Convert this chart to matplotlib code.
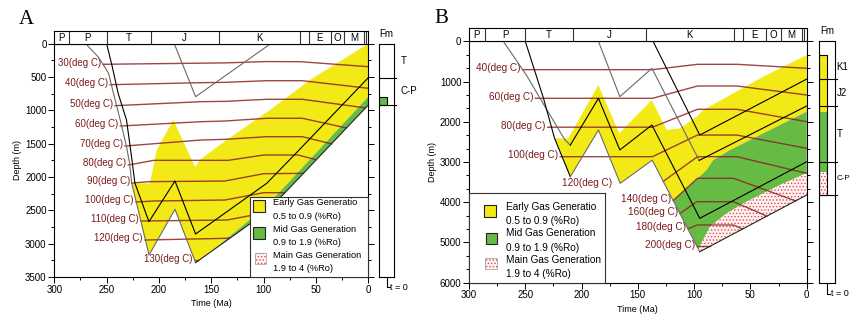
import matplotlib
matplotlib.use('Agg')
import matplotlib.pyplot as plt
from matplotlib.patches import Rectangle
from matplotlib.ticker import MultipleLocator

plt.rcParams['font.family'] = ['Liberation Sans', 'DejaVu Sans']
plt.rcParams['hatch.linewidth'] = 0.6
plt.rcParams['hatch.color'] = '#e04848'

YELLOW = '#f2e917'
GREEN = '#66bb44'
PINK = '#fff2f2'
ISO = '#8b2525'
GRAY = '#6a6a6a'

# geologic time scale on top of both panels (Ma)
period_edges = [300, 286, 250, 208, 143, 65, 57, 36, 23, 4, 2, 0]
period_names = ['P', 'P', 'T', 'J', 'K', '', 'E', 'O', 'M', '', '']

# ---------------- panel A : (time Ma, depth m) ----------------
a_cp_base = [(270, 0), (258, 200), (253, 320), (248, 450), (243.5, 744), (237, 1145),
             (231, 1545), (228, 1800), (226, 2094), (209.5, 3170), (184.7, 2484),
             (165, 3285), (97, 2523), (0, 920)]
a_t_base = [(250, 0), (245, 320), (239, 744), (231, 1145), (226, 1720), (223, 2090),
            (209.6, 2670), (184.7, 2060), (165, 2855), (97, 2094), (67, 1609), (0, 510)]
a_j_base = [(185.4, 0), (165, 795), (93.3, 0)]

a_early_top = [(226, 2094), (208.6, 2094), (202.2, 1595), (186.3, 1145), (165.5, 1850),
               (161, 1745), (135.5, 1445), (94, 995), (55.8, 545), (0, 0)]
a_mid_top = [(150, 3117), (97, 2433), (0, 795)]

a_iso_temps = [30, 40, 50, 60, 70, 80, 90, 100, 110, 120, 130]
a_iso_lines = [
    [(253.5, 309), (137, 288), (97, 268), (65, 270), (0, 345)],
    [(246.7, 615), (160, 585), (137, 580), (97, 555), (63, 555), (0, 669)],
    [(242, 930), (160, 870), (137, 865), (97, 834), (63, 834), (3, 963)],
    [(237, 1235), (160, 1170), (137, 1160), (97, 1119), (63, 1119), (21, 1263)],
    [(232.4, 1535), (160, 1445), (137, 1435), (97, 1395), (63, 1395), (35, 1503)],
    [(229.3, 1820), (205, 1750), (134, 1750), (100, 1670), (67, 1670), (50, 1740)],
    [(225.7, 2090), (210, 2070), (137, 2060), (100, 1950), (62, 1945)],
    [(222, 2375), (205, 2360), (137, 2345), (100, 2235), (80, 2235)],
    [(217, 2660), (135, 2645), (98, 2535)],
    [(213.3, 2945), (137, 2920), (133, 2915)],
    [(165.8, 3250), (162.8, 3250)],
]

a_fm_names = ['T', 'C-P']
a_fm_tops = [0, 510]
a_fm_bases = [510, 920]
a_col_zones = [(805, 920, GREEN)]

# ---------------- panel B ----------------
b_h1 = [(269.5, 0), (249, 840), (232.5, 1625), (214.7, 2455), (210, 2580), (185, 1417),
        (166, 2700), (137.5, 2082), (95, 4400), (0, 2993)]
b_h2 = [(250, 0), (234, 1400), (224, 2411), (210, 3365), (185, 2205), (165.7, 3530),
        (137.2, 2955), (95, 5230), (0, 3820)]
b_j2 = [(185, 0), (166, 1377), (137.5, 672), (95.5, 2960), (0, 1608)]
b_k1 = [(136.5, 0), (95, 2330), (0, 940)]

b_early_top = [(224, 2411), (211.8, 2411), (185.1, 1086), (166.5, 2287), (137.7, 1461),
               (124.4, 2205), (112.6, 2163), (97.7, 1874), (91.9, 1708), (38.6, 880), (0, 341)]
b_mid_top = [(118.6, 3958), (88.8, 3199), (83, 2950), (68, 2702), (38.6, 2287), (0, 1750)]
b_main_top = [(96.3, 5160), (85.9, 4609), (71, 4275), (53.3, 3987), (23.7, 3572), (0, 3281)]

b_iso_temps = [40, 60, 80, 100, 120, 140, 160, 180, 200]
b_iso_lines = [
    [(252.5, 705), (137, 705), (97, 572), (62, 572), (0, 671)],
    [(241, 1417), (137, 1417), (97, 1111), (62, 1111), (0, 1335)],
    [(230, 2135), (137, 2135), (97, 1690), (62, 1690), (0, 1998)],
    [(219, 2868), (137, 2868), (97, 2330), (62, 2330), (0, 2660)],
    [(127.4, 3480), (97, 2868), (62, 2868), (0, 3281)],
    [(118.6, 3958), (97, 3405), (65, 3405), (10, 3965)],
    [(112.6, 4282), (97.7, 3987), (65, 3987), (35.4, 4345)],
    [(105.6, 4660), (97, 4566), (65, 4566), (57, 4665)],
    [(97.5, 5100), (86, 5100)],
]

b_fm_names = ['K1', 'J2', 'T', 'C-P']
b_fm_tops = [341, 945, 1608, 2993]
b_fm_bases = [945, 1608, 2993, 3820]
b_col_zones = [(341, 1750, YELLOW), (1750, 3241, GREEN), (3241, 3820, 'pink')]

legend_lines = [('Early Gas Generatio', '0.5 to 0.9 (%Ro)', YELLOW),
                ('Mid Gas Generation', '0.9 to 1.9 (%Ro)', GREEN),
                ('Main Gas Generation', '1.9 to 4 (%Ro)', 'pink')]

W, H = 850, 320
fig = plt.figure(figsize=(8.5, 3.2), dpi=100)


def px_axes(x0, y0, x1, y1):
    return fig.add_axes([x0 / W, 1 - y1 / H, (x1 - x0) / W, (y1 - y0) / H])


def xs(pts):
    return [p[0] for p in pts]


def ys(pts):
    return [p[1] for p in pts]


def fill(ax, pts, color):
    if color == 'pink':
        ax.fill(xs(pts), ys(pts), facecolor=PINK, edgecolor='#e04848', hatch='.....',
                linewidth=0, zorder=1)
    else:
        ax.fill(xs(pts), ys(pts), color=color, linewidth=0, zorder=1)


def line(ax, pts, color, lw=0.8):
    ax.plot(xs(pts), ys(pts), color=color, lw=lw, zorder=3)


def main_axes(box, dmax, major, minor):
    ax = px_axes(*box)
    ax.set_xlim(300, 0)
    ax.set_ylim(dmax, 0)
    ax.xaxis.set_major_locator(MultipleLocator(50))
    ax.xaxis.set_minor_locator(MultipleLocator(25))
    ax.yaxis.set_major_locator(MultipleLocator(major))
    ax.yaxis.set_minor_locator(MultipleLocator(minor))
    ax.tick_params(which='both', direction='out', labelsize=7, right=True, width=0.7)
    ax.tick_params(which='major', length=4, pad=1.5)
    ax.tick_params(which='minor', length=2.5)
    for s in ax.spines.values():
        s.set_linewidth(0.8)
    ax.set_xlabel('Time (Ma)', fontsize=6.5, labelpad=3)
    ax.set_ylabel('Depth (m)', fontsize=6.5, labelpad=2)
    return ax


def period_bar(box):
    bar = px_axes(*box)
    bar.set_xlim(300, 0)
    bar.set_ylim(0, 1)
    bar.set_xticks([])
    bar.set_yticks([])
    for s in bar.spines.values():
        s.set_linewidth(0.8)
    for i in range(len(period_names)):
        if i > 0:
            bar.axvline(period_edges[i], color='#333', lw=0.8)
        if period_names[i]:
            bar.text((period_edges[i] + period_edges[i + 1]) / 2, 0.45, period_names[i],
                     ha='center', va='center', fontsize=7)


def iso_lines(ax, temps, lines, label_xy, fs):
    for T, pts, xy in zip(temps, lines, label_xy):
        ax.plot(xs(pts), ys(pts), color=ISO, lw=1.0, alpha=0.85, zorder=2)
        ax.annotate('%d(deg C)' % T, xy=xy, xytext=(-1.5, 1.2), textcoords='offset points',
                    ha='right', va='center', fontsize=fs, color='#7a1c1c')


def fm_column(box, dmax, names, tops, bases, zones, name_x, name_fs):
    col = px_axes(*box)
    col.set_xlim(0, 1)
    col.set_ylim(dmax, 0)
    col.set_xticks([])
    col.set_yticks([])
    for s in col.spines.values():
        s.set_linewidth(0.8)
    for d0, d1, c in zones:
        if c == 'pink':
            col.add_patch(Rectangle((0, d0), 0.53, d1 - d0, facecolor=PINK, edgecolor='#e04848',
                                    hatch='.....', lw=0))
        else:
            col.add_patch(Rectangle((0, d0), 0.53, d1 - d0, facecolor=c, lw=0))
    if zones:
        col.add_patch(Rectangle((0, zones[0][0]), 0.53, zones[-1][1] - zones[0][0],
                                fill=False, edgecolor='black', lw=0.8))
    for name, d0, d1, fs in zip(names, tops, bases, name_fs):
        col.plot([0, 1.12], [d1, d1], color='black', lw=0.8, clip_on=False)
        col.text(name_x, (d0 + d1) / 2, name, fontsize=fs, va='center', ha='left',
                 transform=col.get_yaxis_transform(), clip_on=False)
    col.text(0.5, 1.02, 'Fm', transform=col.transAxes, ha='center', va='bottom', fontsize=7)
    col.plot([0.53, 0.53, 0.7], [0, -0.045, -0.045], transform=col.transAxes, color='black',
             lw=0.8, clip_on=False)
    col.text(0.75, -0.045, 't = 0', transform=col.transAxes, ha='left', va='center', fontsize=6.5)


def legend_box(box, sq, tx, ty, fs):
    lg = px_axes(*box)
    w, h = box[2] - box[0], box[3] - box[1]
    lg.set_xlim(0, w)
    lg.set_ylim(h, 0)
    lg.set_xticks([])
    lg.set_yticks([])
    for s in lg.spines.values():
        s.set_linewidth(0.8)
        s.set_color('#333')
    for i, (t1, t2, c) in enumerate(legend_lines):
        x0, y0, size = sq[i]
        if c == 'pink':
            lg.add_patch(Rectangle((x0, y0), size, size, facecolor=PINK, edgecolor='#e04848',
                                   hatch='.....', lw=0))
            lg.add_patch(Rectangle((x0, y0), size, size, fill=False, edgecolor='#999', lw=0.5))
        else:
            lg.add_patch(Rectangle((x0, y0), size, size, facecolor=c, edgecolor='#222', lw=0.8))
        lg.text(tx, ty[2 * i], t1, fontsize=fs, va='center', ha='left')
        lg.text(tx, ty[2 * i + 1], t2, fontsize=fs, va='center', ha='left')


# ---------------- draw panel A ----------------
axA = main_axes((54.3, 43.7, 368.3, 277), 3500, 500, 250)
period_bar((54.3, 31, 368.3, 43.7))
fill(axA, a_early_top + a_mid_top[::-1] + a_cp_base[11:8:-1], YELLOW)
fill(axA, a_mid_top + a_cp_base[:11:-1], GREEN)
iso_lines(axA, a_iso_temps, a_iso_lines, [l[0] for l in a_iso_lines], 7)
line(axA, a_cp_base[:12], GRAY)
line(axA, a_cp_base[11:], '#222')
line(axA, a_t_base, 'black')
line(axA, a_j_base, GRAY)
fm_column((379, 43.7, 394.3, 277), 3500, a_fm_names, a_fm_tops, a_fm_bases, a_col_zones,
          1.4, [7, 7])
legend_box((250, 196.7, 368.3, 277.3), [(3.3, 3.3, 11.7), (3.3, 30.6, 11.3), (5, 56.6, 10.5)],
           23.3, [6, 20, 32.6, 46, 58.3, 71.6], 6.7)
fig.text(26 / W, 1 - 19 / H, 'A', fontsize=15, family='Liberation Serif', ha='center', va='center')

# ---------------- draw panel B ----------------
axB = main_axes((469, 41.3, 806.7, 282.7), 6000, 1000, 1000 / 3)
period_bar((469, 27.7, 806.7, 41.3))
fill(axB, b_early_top + b_mid_top[::-1] + b_h2[6:2:-1], YELLOW)
fill(axB, b_mid_top + b_main_top[::-1], GREEN)
fill(axB, b_main_top + b_h2[:6:-1], 'pink')
b_label_xy = [l[0] for l in b_iso_lines]
b_label_xy[4] = (171, 3572)
iso_lines(axB, b_iso_temps, b_iso_lines, b_label_xy, 7.2)
line(axB, b_h1[:5], GRAY)
line(axB, b_h1[4:], 'black')
line(axB, b_h2[:4], 'black')
line(axB, b_h2[3:8], GRAY)
line(axB, b_h2[7:], '#222')
line(axB, b_j2[:4], GRAY)
line(axB, b_j2[3:], 'black')
line(axB, b_k1, 'black')
fm_column((819, 41.3, 835, 282.7), 6000, b_fm_names, b_fm_tops, b_fm_bases, b_col_zones,
          1.1, [7, 7, 7, 5.8])
legend_box((469, 193.3, 605, 282.7), [(15.3, 11.7, 12), (16.7, 40, 11), (16, 64.4, 11.5)],
           36.7, [13.4, 27.7, 40, 54.4, 66.7, 81], 7.2)
fig.text(441.5 / W, 1 - 18.5 / H, 'B', fontsize=15, family='Liberation Serif', ha='center', va='center')

fig.savefig('out.png', dpi=100)
